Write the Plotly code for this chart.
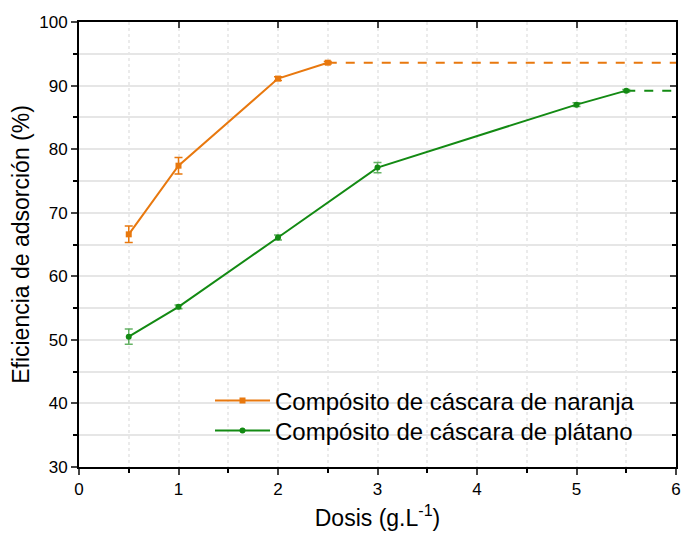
import plotly.graph_objects as go

# Data
naranja_x = [0.5, 1.0, 2.0, 2.5]
naranja_y = [66.6, 77.4, 91.1, 93.6]
naranja_err = [1.3, 1.3, 0.3, 0.2]
naranja_ext_x = [2.5, 6.0]
naranja_ext_y = [93.6, 93.6]

platano_x = [0.5, 1.0, 2.0, 3.0, 5.0, 5.5]
platano_y = [50.5, 55.2, 66.1, 77.1, 87.0, 89.2]
platano_err = [1.2, 0.3, 0.4, 0.8, 0.3, 0.2]
platano_ext_x = [5.5, 6.0]
platano_ext_y = [89.2, 89.2]

x_ticks = [0, 1, 2, 3, 4, 5, 6]
y_ticks = [30, 40, 50, 60, 70, 80, 90, 100]

ORANGE = "#E8780E"
GREEN = "#138A13"
FONT = "Liberation Sans"

fig = go.Figure()

fig.add_trace(go.Scatter(
    x=naranja_ext_x, y=naranja_ext_y, mode="lines",
    line=dict(color=ORANGE, width=2, dash="dash"), showlegend=False, hoverinfo="skip"))
fig.add_trace(go.Scatter(
    x=platano_ext_x, y=platano_ext_y, mode="lines",
    line=dict(color=GREEN, width=2, dash="dash"), showlegend=False, hoverinfo="skip"))

fig.add_trace(go.Scatter(
    x=naranja_x, y=naranja_y, mode="lines+markers",
    name="Compósito de cáscara de naranja", legend="legend",
    line=dict(color=ORANGE, width=2),
    marker=dict(symbol="square", size=6, color=ORANGE),
    error_y=dict(type="data", array=naranja_err, color=ORANGE, thickness=1.5, width=4)))
fig.add_trace(go.Scatter(
    x=platano_x, y=platano_y, mode="lines+markers",
    name="Compósito de cáscara de plátano", legend="legend2",
    line=dict(color=GREEN, width=2),
    marker=dict(symbol="circle", size=6, color=GREEN),
    error_y=dict(type="data", array=platano_err, color="rgba(19,138,19,0.65)", thickness=1.5, width=4)))

# invisible trace for mirrored axes
fig.add_trace(go.Scatter(x=[0], y=[30], xaxis="x2", yaxis="y2", mode="markers",
                         marker=dict(opacity=0), showlegend=False, hoverinfo="skip"))

legend_common = dict(xanchor="left", yanchor="middle", bgcolor="rgba(0,0,0,0)",
                     font=dict(size=24, family=FONT), itemwidth=55)

fig.update_layout(
    width=682, height=533,
    margin=dict(l=79, r=6, t=22, b=66),
    paper_bgcolor="white", plot_bgcolor="white",
    font=dict(family=FONT, color="black", size=17),
    xaxis=dict(
        range=[0, 6], tickvals=x_ticks, ticks="outside", ticklen=6, tickwidth=1.5,
        showline=True, linecolor="black", linewidth=2, automargin=False,
        showgrid=True, gridcolor="#ebebeb", gridwidth=1.5, griddash="dot",
        minor=dict(dtick=0.5, ticks="outside", ticklen=4, tickwidth=1.5, tickcolor="black",
                   showgrid=True, gridcolor="#ebebeb", gridwidth=1.5, griddash="dot"),
        zeroline=False,
        title=dict(text="Dosis (g.L<sup>-1</sup>)", font=dict(size=23), standoff=11),
        tickfont=dict(size=17),
    ),
    yaxis=dict(
        range=[30, 100], tickvals=y_ticks, ticks="outside", ticklen=6, tickwidth=1.5,
        showline=True, linecolor="black", linewidth=2, automargin=False,
        showgrid=True, gridcolor="#e6e6e6", gridwidth=1.5,
        minor=dict(dtick=5, ticks="outside", ticklen=4, tickwidth=1.5, tickcolor="black",
                   showgrid=True, gridcolor="#e6e6e6", gridwidth=1.5),
        zeroline=False,
        title=dict(text="Eficiencia de adsorción (%)", font=dict(size=23), standoff=3),
        tickfont=dict(size=17),
    ),
    xaxis2=dict(
        overlaying="x", side="top", range=[0, 6], tickvals=x_ticks, ticks="inside",
        ticklen=6, tickwidth=1.5, showticklabels=False, showline=True, linecolor="black",
        linewidth=2, showgrid=False, zeroline=False, automargin=False),
    yaxis2=dict(
        overlaying="y", side="right", range=[30, 100], tickvals=y_ticks, ticks="inside",
        ticklen=6, tickwidth=1.5, showticklabels=False, showline=True, linecolor="black",
        linewidth=2, showgrid=False, zeroline=False, automargin=False,
        minor=dict(dtick=5, ticks="inside", ticklen=4, tickwidth=1.5, tickcolor="black")),
    legend=dict(x=(210 - 79) / 597, y=(467 - 401) / 445, **legend_common),
    legend2=dict(x=(210 - 79) / 597, y=(467 - 431) / 445, **legend_common),
)

fig.write_html("out.html", config={"displayModeBar": False},
               post_script="document.body.style.margin='0';document.body.style.overflow='hidden';")
